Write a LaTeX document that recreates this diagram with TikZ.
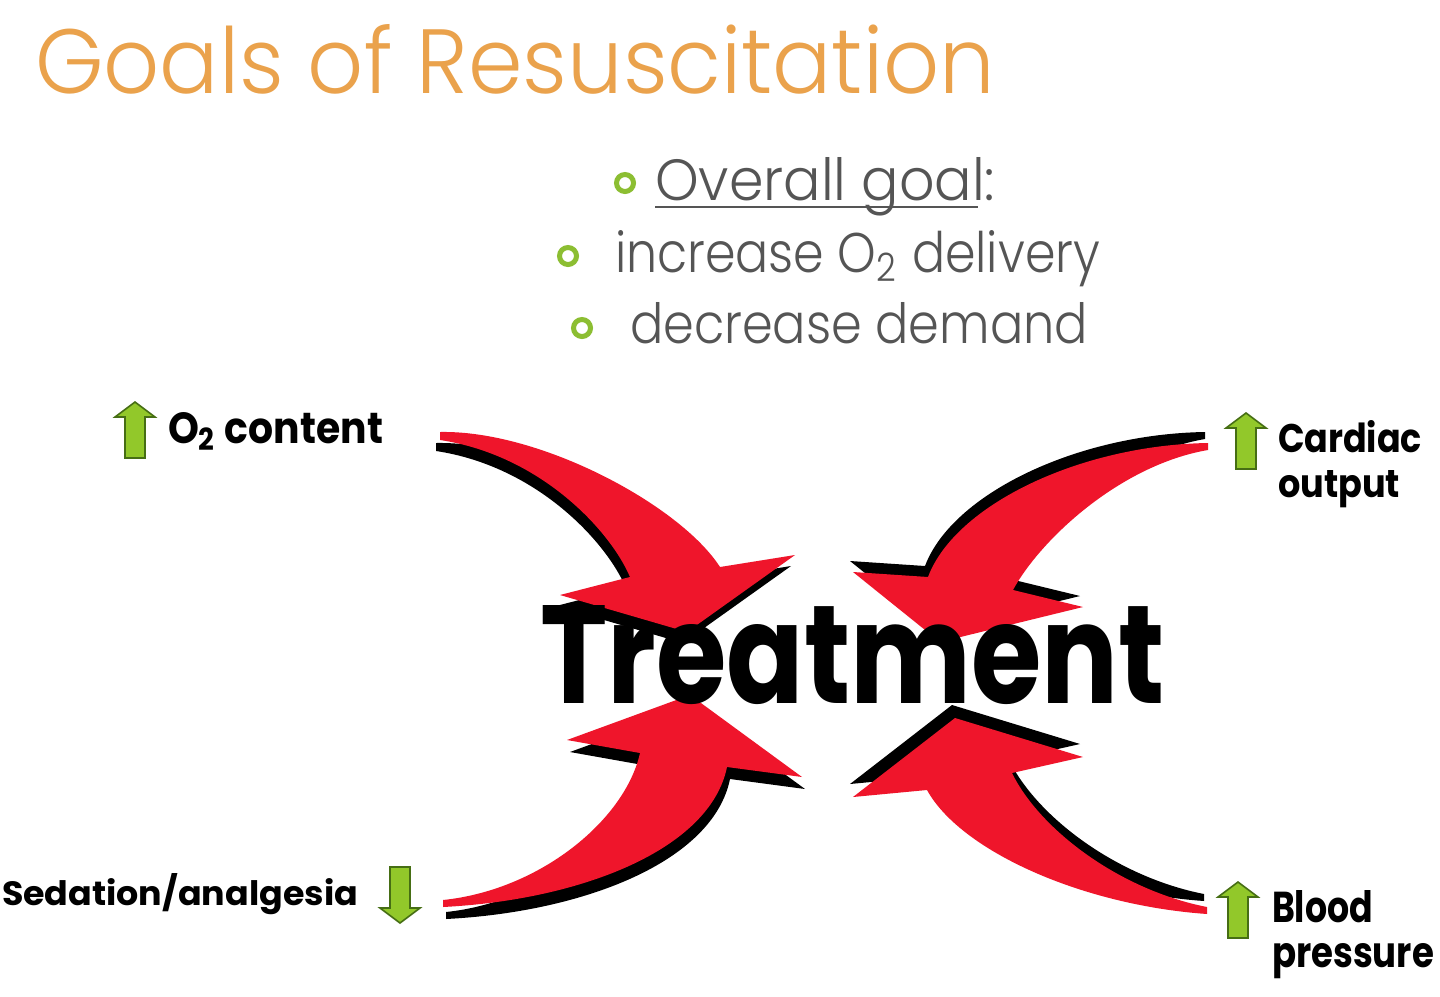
\documentclass[tikz,border=0pt]{standalone}
\usepackage{fontspec}
\usepackage{graphicx}
\IfFontExistsTF{Poppins Light}{\newfontfamily\gothfont{Poppins Light}}{\newfontfamily\gothfont{Poppins}}
\IfFontExistsTF{Poppins Bold}{\newfontfamily\comicfont{Poppins Bold}}{\newfontfamily\comicfont{Poppins}[FakeBold=2]}
\definecolor{titleorange}{RGB}{234,162,76}
\definecolor{bodygray}{RGB}{85,85,85}
\definecolor{bulletgreen}{RGB}{140,190,50}
\definecolor{arrowred}{RGB}{239,21,43}
\definecolor{liftfill}{RGB}{146,200,42}
\definecolor{liftdraw}{RGB}{70,110,20}
\newcommand{\myfit}[3]{\resizebox{#1}{#2}{#3}}
\newcommand{\armTL}[1]{\fill[#1] (440,432) .. controls (540,430) and (680,505) .. (720,567) -- (795,555) -- (687,632) -- (560,595) -- (630,577) .. controls (610,530) and (540,455) .. (440,440) -- cycle;}
\newcommand{\armBL}[1]{\fill[#1] (443,900) .. controls (540,890) and (625,820) .. (640,753) -- (567,740) -- (690,695) -- (802,777) -- (727,767) .. controls (710,850) and (580,900) .. (443,907) -- cycle;}
\newcommand{\armTR}[1]{\fill[#1] (1208,443) .. controls (1080,445) and (955,505) .. (928,577) -- (853,572) -- (940,642) -- (1083,607) -- (1013,590) .. controls (1040,540) and (1120,465) .. (1208,450) -- cycle;}
\newcommand{\armBR}[1]{\fill[#1] (1207,914) .. controls (1080,905) and (960,850) .. (927,790) -- (853,797) -- (955,718) -- (1083,757) -- (1012,773) .. controls (1040,830) and (1120,890) .. (1207,907) -- cycle;}
\tikzset{
  txt/.style={inner sep=0pt, outer sep=0pt},
  ring/.style={circle, draw=bulletgreen, line width=2.5pt, minimum size=8.5pt, inner sep=0pt},
  redarm/.style={arrowred},
  shadowarm/.style={black},
  lift/.style={fill=liftfill, draw=liftdraw, line width=0.8pt, line join=miter},
  uparrow/.pic={\path[lift] (0,0) -- (20,15) -- (10,15) -- (10,56) -- (-10,56) -- (-10,15) -- (-20,15) -- cycle;},
  downarrow/.pic={\path[lift] (0,0) -- (20,-15) -- (10,-15) -- (10,-56) -- (-10,-56) -- (-10,-15) -- (-20,-15) -- cycle;},
  twoline/.style={txt, anchor=north west, align=left, font=\fontsize{10pt}{22.5pt}\selectfont},
}
\begin{document}
\begin{tikzpicture}[x=0.5pt,y=-0.5pt]
\useasboundingbox (0,0) rectangle (1440,996);
\fill[white] (0,0) rectangle (1440,996);

% title
\node[txt, anchor=base west, text=titleorange] (title) at (35,93)
  {\myfit{480pt}{34.5pt}{\gothfont Goals of Resuscitation}};

% bullets
\node[ring] (b1) at (625,183) {};
\node[ring] (b2) at (568,256) {};
\node[ring] (b3) at (582,328) {};
\node[txt, anchor=base west, text=bodygray] (goal) at (655,200)
  {\myfit{170pt}{21.5pt}{\gothfont Overall goal:}};
\draw[bodygray, line width=0.8pt] ([yshift=-3.5pt]goal.base west) -- ++(323,0);
\node[txt, anchor=base west, text=bodygray] (inc) at (615,272)
  {\myfit{242.5pt}{21pt}{\gothfont increase O\textsubscript{2} delivery}};
\node[txt, anchor=base west, text=bodygray] (dec) at (630,343)
  {\myfit{229pt}{20.5pt}{\gothfont decrease demand}};

% red curved arrows: shadows first
\begin{scope}[shift={(-4,11)}]\armTL{shadowarm}\end{scope}
\begin{scope}[shift={(3,12)}]\armBL{shadowarm}\end{scope}
\begin{scope}[shift={(-3,-11)}]\armTR{shadowarm}\end{scope}
\begin{scope}[shift={(-3,-13)}]\armBR{shadowarm}\end{scope}
\armTL{redarm}
\armBL{redarm}
\armTR{redarm}
\armBR{redarm}

% central word
\node[txt, anchor=base west] (treat) at (540,703)
  {\myfit{312.5pt}{49pt}{\comicfont Treatment}};

% labels
\pic (o2up) at (135,402) {uparrow};
\node[txt, anchor=base west] (o2) at (168,443)
  {\myfit{107.5pt}{15.5pt}{\comicfont O\textsubscript{2} content}};
\pic (coup) at (1246,413) {uparrow};
\node[twoline] (co) at (1278,420)
  {\myfit{72pt}{16pt}{\comicfont Cardiac}\\\myfit{61pt}{13.5pt}{\comicfont output}};
\pic (bpup) at (1238,882) {uparrow};
\node[twoline] (bp) at (1272,890)
  {\myfit{50.5pt}{16pt}{\comicfont Blood}\\\myfit{81pt}{12pt}{\comicfont pressure}};
\pic (seddown) at (400,923) {downarrow};
\node[txt, anchor=base west] (sed) at (2,905)
  {\myfit{178pt}{16pt}{\comicfont Sedation/analgesia}};
\end{tikzpicture}
\end{document}
